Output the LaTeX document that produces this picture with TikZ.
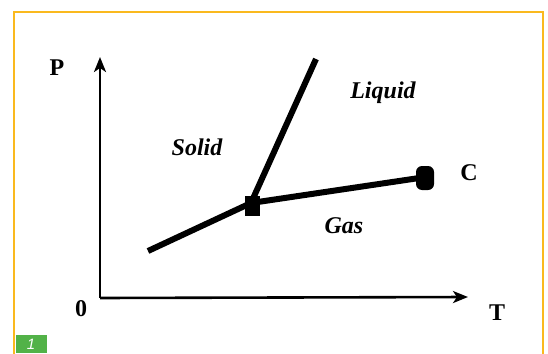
\documentclass[tikz,border=0pt]{standalone}
\usepackage{fontspec}
\setmainfont{Liberation Serif}
\setsansfont{Liberation Sans}
\usetikzlibrary{arrows.meta}
\definecolor{frameor}{RGB}{250,185,30}
\definecolor{tabgreen}{RGB}{82,178,72}
\begin{document}
\begin{tikzpicture}[x=1pt,y=-1pt,
  axis/.style={line width=2.6pt,-{Stealth[length=15pt,width=12pt,inset=4pt]}},
  phase/.style={line width=6pt},
  axlabel/.style={font=\fontsize{24}{24}\selectfont\bfseries,inner sep=0pt},
  region/.style={font=\fontsize{24}{24}\selectfont\bfseries\itshape,inner sep=0pt}]
\useasboundingbox (0,0) rectangle (548,353);
\fill[white] (0,0) rectangle (548,353);
% frame
\draw[frameor,line width=2pt] (14,360) -- (14,12) -- (543,12) -- (543,360);
\fill[tabgreen] (16,335) rectangle (47,353);
\node[text=white,font=\sffamily\itshape\fontsize{15}{15}\selectfont,inner sep=0pt] (tab) at (31,344) {1};
% axes
\coordinate (O) at (100,298);
\coordinate (Ptip) at (100,57);
\coordinate (Ttip) at (468,297);
\draw[axis] (O) -- (Ptip);
\draw[axis] (O) -- (Ttip);
\node[axlabel] (P) at (57,68) {P};
\node[axlabel] (T) at (497,313) {T};
\node[axlabel] (zero) at (81,309) {0};
% phase lines
\coordinate (sg) at (148,251);
\coordinate (tp) at (251,203);
\coordinate (mt) at (316,59);
\coordinate (cp) at (426,177);
\draw[phase] (sg) -- (tp);
\draw[phase] (tp) -- (mt);
\draw[phase] (tp) -- (cp);
\node[fill=black,minimum width=15pt,minimum height=20pt,inner sep=0pt] (triple) at (252,206) {};
\node[fill=black,rounded corners=6pt,minimum width=18pt,minimum height=24pt,inner sep=0pt] (crit) at (425,178) {};
\node[axlabel] (C) at (469,173) {C};
% regions
\node[region] (liquid) at (383,93) {Liquid};
\node[region] (solid) at (197,147) {Solid};
\node[region] (gas) at (344,226) {Gas};
\end{tikzpicture}
\end{document}
